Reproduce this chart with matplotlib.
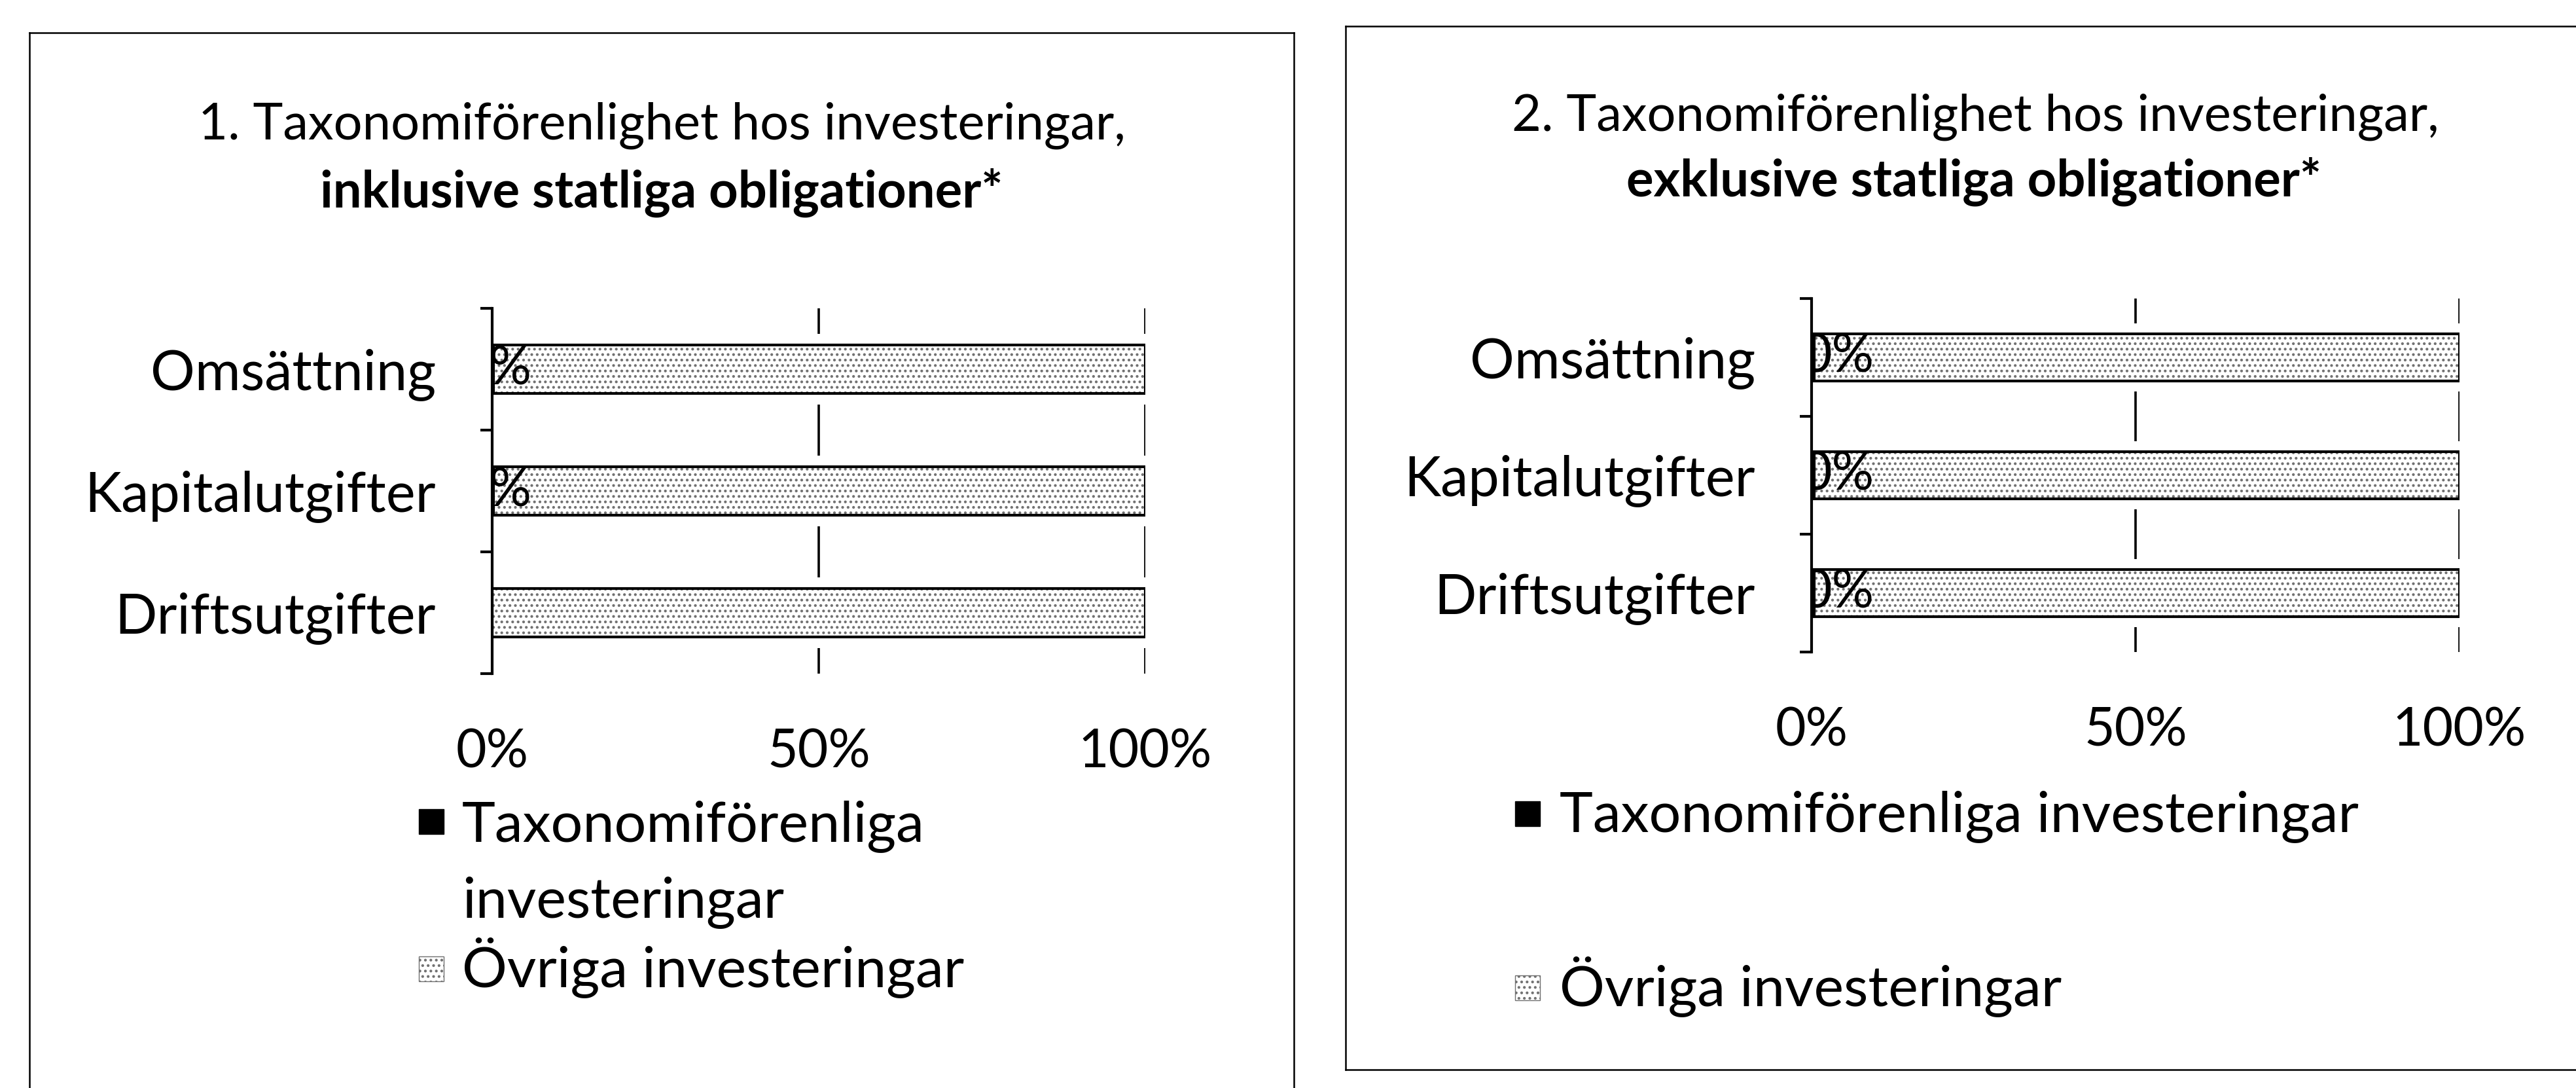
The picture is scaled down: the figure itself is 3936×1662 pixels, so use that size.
import numpy as np
import matplotlib
matplotlib.use("Agg")
import matplotlib.pyplot as plt
from matplotlib.patches import Rectangle
from matplotlib.lines import Line2D

plt.rcParams["font.family"] = ["Lato", "DejaVu Sans"]
plt.rcParams["hatch.linewidth"] = 1.8

# Data
categories = ["Omsättning", "Kapitalutgifter", "Driftsutgifter"]
tax_incl = [0.2, 0.2, 0.0]      # taxonomiförenliga, inkl. statliga obligationer (%)
tax_excl = [0.4, 0.4, 0.4]      # taxonomiförenliga, exkl. statliga obligationer (%)
other_incl = [100 - v for v in tax_incl]
other_excl = [100 - v for v in tax_excl]
xticks = [0, 50, 100]
xticklabels = ["0%", "50%", "100%"]
legend_labels = ["Taxonomiförenliga investeringar", "Övriga investeringar"]
titles_1 = ["1. Taxonomiförenlighet hos investeringar,", "inklusive statliga obligationer*"]
titles_2 = ["2. Taxonomiförenlighet hos investeringar,", "exklusive statliga obligationer*"]

W, H = 3936, 1662
fig = plt.figure(figsize=(W / 100, H / 100), dpi=100)
FS_TITLE = 56
FS_CAT = 61
FS_TICK = 58
FS_LEG = 62
FS_LABEL = 58
HATCH = dict(facecolor="white", edgecolor="#707070", hatch="..")


def fx(px):
    return px / W


def fy(py):
    return 1 - py / H


def draw_panel(ax, tax, other, label_dx):
    y = np.arange(len(categories))
    # white halo behind bars so the grid is broken around them
    ax.barh(y, [t + o for t, o in zip(tax, other)], height=0.58, color="white",
            linewidth=0, zorder=2)
    ax.barh(y, tax, height=0.4, color="black", linewidth=0, zorder=3)
    ax.barh(y, other, left=tax, height=0.4, linewidth=0, zorder=3, **HATCH)
    ax.barh(y, other, left=tax, height=0.4, fill=False, edgecolor="black",
            linewidth=3, zorder=4)
    for yi, t in zip(y, tax):
        if t > 0:
            ax.annotate(f"{t:.0f}%", (t, yi), xytext=(label_dx, 0),
                        textcoords="offset points", ha="right", va="center",
                        fontsize=FS_LABEL, zorder=5, annotation_clip=False)
    ax.set_xlim(0, 100)
    ax.set_ylim(len(categories) - 0.5, -0.5)
    ax.set_xticks(xticks)
    ax.set_xticklabels(xticklabels, fontsize=FS_TICK)
    ax.tick_params(axis="x", length=0, pad=60)
    ax.set_yticks(y)
    ax.set_yticklabels(categories, fontsize=FS_CAT)
    ax.tick_params(axis="y", which="major", length=0, pad=62)
    ax.set_yticks(np.arange(len(categories) + 1) - 0.5, minor=True)
    ax.tick_params(axis="y", which="minor", length=13, width=3, direction="out")
    ax.grid(axis="x", color="black", linewidth=2.6, zorder=1)
    ax.set_axisbelow(True)
    for s in ["top", "right", "bottom"]:
        ax.spines[s].set_visible(False)
    ax.spines["left"].set_linewidth(3)
    ax.spines["left"].set_zorder(6)
    for t in ax.texts:
        t.set_clip_path(ax.patch)


def legend_entry(x_marker, x_text, y_base, label, style):
    size = 38
    fig.add_artist(Rectangle((fx(x_marker), fy(y_base - 8)), size / W, size / H,
                             transform=fig.transFigure, linewidth=1, **style))
    fig.text(fx(x_text), fy(y_base), label, ha="left", va="baseline",
             fontsize=FS_LEG, linespacing=1.55)


ax1 = fig.add_axes([fx(752), fy(1029), fx(1750 - 752), (1029 - 471) / H])
draw_panel(ax1, tax_incl, other_incl, 42)
ax2 = fig.add_axes([fx(2768), fy(996), fx(3758 - 2768), (996 - 456) / H])
draw_panel(ax2, tax_excl, other_excl, 66)

# titles
fig.text(fx(1011), fy(213), titles_1[0], ha="center", va="baseline", fontsize=FS_TITLE)
fig.text(fx(1011), fy(317), titles_1[1], ha="center", va="baseline", fontsize=FS_TITLE,
         fontweight="bold")
fig.text(fx(3018), fy(200), titles_2[0], ha="center", va="baseline", fontsize=FS_TITLE)
fig.text(fx(3016), fy(300), titles_2[1], ha="center", va="baseline", fontsize=FS_TITLE,
         fontweight="bold")

# legends
solid = dict(facecolor="black", edgecolor="black")
first, second = legend_labels[0].split(" ")
fig.text(fx(706), fy(1285), first, ha="left", va="baseline", fontsize=FS_LEG)
fig.add_artist(Rectangle((fx(640), fy(1282 - 8)), 38 / W, 38 / H,
                         transform=fig.transFigure, linewidth=1, **solid))
fig.text(fx(706), fy(1401), second, ha="left", va="baseline", fontsize=FS_LEG)
legend_entry(640, 706, 1507, legend_labels[1], HATCH)

legend_entry(2315, 2383, 1270, legend_labels[0], solid)
legend_entry(2315, 2383, 1536, legend_labels[1], HATCH)

# scanned frame lines around the two panels
frame = dict(color="black", linewidth=1.8, transform=fig.transFigure)
fig.add_artist(Line2D([fx(45), fx(45)], [fy(50), 0], **frame))
fig.add_artist(Line2D([fx(45), fx(1977)], [fy(50), fy(50)], **frame))
fig.add_artist(Line2D([fx(1977), fx(1977)], [fy(50), 0], **frame))
fig.add_artist(Line2D([fx(2056), fx(2056)], [fy(40), fy(1634)], **frame))
fig.add_artist(Line2D([fx(2056), 1], [fy(40), fy(40)], **frame))
fig.add_artist(Line2D([fx(2056), 1], [fy(1634), fy(1634)], **frame))

fig.savefig("out.png", dpi=100)
